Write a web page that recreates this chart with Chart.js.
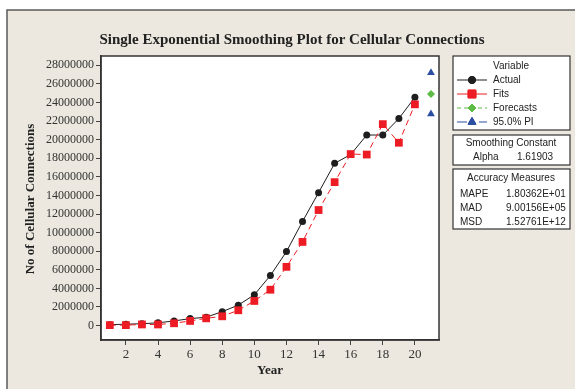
<!DOCTYPE html>
<html>
<head>
<meta charset="utf-8">
<script src="https://cdn.jsdelivr.net/npm/chart.js@4.4.1/dist/chart.umd.min.js"></script>
<style>
  html, body { margin: 0; padding: 0; background: #ffffff; }
  #wrap { width: 575px; height: 389px; position: relative; }
</style>
</head>
<body>
<div id="wrap"><canvas id="chart" width="575" height="389"></canvas></div>
<script>
// Yearly cellular connections and the single exponential smoothing results
const years = [1, 2, 3, 4, 5, 6, 7, 8, 9, 10, 11, 12, 13, 14, 15, 16, 17, 18, 19, 20];
const actual = [100000, 150000, 200000, 300000, 500000, 750000, 900000, 1500000, 2200000, 3320000,
                5390000, 7960000, 11200000, 14300000, 17450000, 18400000, 20500000, 20500000, 22270000, 24560000];
const fits = [50000, 50000, 120000, 120000, 250000, 500000, 780000, 1000000, 1650000, 2650000,
              3860000, 6320000, 9000000, 12430000, 15430000, 18450000, 18400000, 21670000, 19670000, 23800000];
const forecastYears = [21];
const forecasts = [24900000];
const piYears = [21, 21];
const piBounds = [27200000, 22750000];

const xTicks = [2, 4, 6, 8, 10, 12, 14, 16, 18, 20];
const yTicks = [0, 2000000, 4000000, 6000000, 8000000, 10000000, 12000000, 14000000,
                16000000, 18000000, 20000000, 22000000, 24000000, 26000000, 28000000];

const chartTitle = 'Single Exponential Smoothing Plot for Cellular Connections';
const xTitle = 'Year';
const yTitle = 'No of Cellular Connections';
const legendTitle = 'Variable';
const seriesNames = ['Actual', 'Fits', 'Forecasts', '95.0% PI'];
const smoothingTitle = 'Smoothing Constant';
const smoothingRows = [['Alpha', '1.61903']];
const accuracyTitle = 'Accuracy Measures';
const accuracyRows = [['MAPE', '1.80362E+01'], ['MAD', '9.00156E+05'], ['MSD', '1.52761E+12']];

const pts = (xs, ys) => xs.map((x, i) => ({ x: x, y: ys[i] }));

const BG = '#ECE8DF';
const SERIF = '"Liberation Serif", "DejaVu Serif", serif';
const SANS = '"Liberation Sans", Arial, sans-serif';

// Panel background, frame, titles and side boxes
const decor = {
  id: 'decor',
  beforeDraw(chart) {
    const ctx = chart.ctx, a = chart.chartArea;
    ctx.save();
    ctx.fillStyle = '#ffffff';
    ctx.fillRect(0, 0, chart.width, chart.height);
    ctx.fillStyle = BG;
    ctx.fillRect(7, 10, chart.width - 7, chart.height - 10);
    ctx.strokeStyle = '#5a5a5a';
    ctx.lineWidth = 1.5;
    ctx.beginPath();
    ctx.moveTo(7, chart.height);
    ctx.lineTo(7, 10);
    ctx.lineTo(chart.width, 10);
    ctx.stroke();
    ctx.fillStyle = '#ffffff';
    ctx.fillRect(a.left, a.top, a.right - a.left, a.bottom - a.top);
    ctx.restore();
  },
  afterDraw(chart) {
    const ctx = chart.ctx, a = chart.chartArea;
    ctx.save();
    // plot frame
    ctx.strokeStyle = '#333333';
    ctx.lineWidth = 1.5;
    ctx.strokeRect(a.left, a.top, a.right - a.left, a.bottom - a.top);

    // titles
    ctx.fillStyle = '#222222';
    ctx.textAlign = 'center';
    ctx.textBaseline = 'middle';
    ctx.font = 'bold 15px ' + SERIF;
    ctx.fillText(chartTitle, 292, 40);
    ctx.font = 'bold 13px ' + SERIF;
    ctx.fillText(xTitle, 270, 371);
    ctx.save();
    ctx.translate(31, 199);
    ctx.rotate(-Math.PI / 2);
    ctx.fillText(yTitle, 0, 0);
    ctx.restore();

    // side boxes
    const bx = 453, bw = 117;
    const box = (y, h) => {
      ctx.fillStyle = '#ffffff';
      ctx.fillRect(bx, y, bw, h);
      ctx.strokeStyle = '#333333';
      ctx.lineWidth = 1.2;
      ctx.strokeRect(bx, y, bw, h);
    };
    box(56, 74);
    box(135, 30);
    box(169, 60);

    ctx.font = '10px ' + SANS;
    ctx.fillStyle = '#222222';
    ctx.textBaseline = 'middle';
    ctx.textAlign = 'center';
    ctx.fillText(legendTitle, 511, 66);

    // legend rows from dataset styles
    chart.data.datasets.forEach((ds, i) => {
      const y = 80 + i * 14;
      ctx.save();
      ctx.strokeStyle = ds.borderColor;
      ctx.lineWidth = 1;
      ctx.setLineDash(ds.legendDash || []);
      ctx.beginPath();
      ctx.moveTo(457, y);
      ctx.lineTo(487, y);
      ctx.stroke();
      ctx.setLineDash([]);
      Chart.helpers.drawPoint(ctx, {
        pointStyle: ds.pointStyle,
        radius: ds.pointRadius,
        borderWidth: 1,
        rotation: 0
      }, 472, y);
      ctx.fillStyle = ds.pointBackgroundColor;
      ctx.strokeStyle = ds.pointBorderColor;
      ctx.fill();
      ctx.stroke();
      ctx.restore();
      ctx.fillStyle = '#222222';
      ctx.textAlign = 'left';
      ctx.fillText(ds.label, 493, y);
    });

    ctx.textAlign = 'center';
    ctx.fillText(smoothingTitle, 511, 143);
    smoothingRows.forEach((r, i) => {
      ctx.textAlign = 'left';
      ctx.fillText(r[0], 473, 157 + i * 14);
      ctx.fillText(r[1], 517, 157 + i * 14);
    });

    ctx.textAlign = 'center';
    ctx.fillText(accuracyTitle, 511, 178);
    accuracyRows.forEach((r, i) => {
      ctx.textAlign = 'left';
      ctx.fillText(r[0], 460, 194 + i * 14);
      ctx.fillText(r[1], 506, 194 + i * 14);
    });
    ctx.restore();
  }
};

new Chart(document.getElementById('chart'), {
  type: 'line',
  data: {
    datasets: [
      {
        label: seriesNames[0],
        data: pts(years, actual),
        borderColor: '#1e1e1e',
        borderWidth: 1,
        pointStyle: 'circle',
        pointRadius: 3.5,
        pointBackgroundColor: '#1e1e1e',
        pointBorderColor: '#1e1e1e',
        pointBorderWidth: 0,
        order: 2
      },
      {
        label: seriesNames[1],
        data: pts(years, fits),
        borderColor: '#ED1C24',
        borderWidth: 1,
        borderDash: [6, 4],
        legendDash: [],
        pointStyle: 'rect',
        pointRadius: 5.5,
        pointBackgroundColor: '#ED1C24',
        pointBorderColor: '#ED1C24',
        pointBorderWidth: 0,
        order: 1
      },
      {
        label: seriesNames[2],
        data: pts(forecastYears, forecasts),
        showLine: false,
        borderColor: '#5DBB46',
        legendDash: [4, 3],
        pointStyle: 'rectRot',
        pointRadius: 4,
        pointBackgroundColor: '#5DBB46',
        pointBorderColor: '#5DBB46',
        pointBorderWidth: 0
      },
      {
        label: seriesNames[3],
        data: pts(piYears, piBounds),
        showLine: false,
        borderColor: '#2B4DA2',
        legendDash: [10, 4, 4, 4],
        pointStyle: 'triangle',
        pointRadius: 4.5,
        pointBackgroundColor: '#2B4DA2',
        pointBorderColor: '#2B4DA2',
        pointBorderWidth: 0
      }
    ]
  },
  options: {
    responsive: false,
    animation: false,
    devicePixelRatio: 1,
    layout: { padding: { left: 0, right: 136, top: 56, bottom: 0 } },
    plugins: {
      legend: { display: false },
      title: { display: false },
      tooltip: { enabled: false }
    },
    scales: {
      x: {
        type: 'linear',
        min: 0.45,
        max: 21.5,
        afterBuildTicks(scale) { scale.ticks = xTicks.map(v => ({ value: v })); },
        afterFit(scale) { scale.height = 49; },
        grid: { display: true, drawOnChartArea: false, drawTicks: true, tickLength: 5, color: '#444444', lineWidth: 1 },
        border: { display: true, color: '#333333', width: 1.5 },
        ticks: {
          padding: 2,
          color: '#333333',
          font: { family: SERIF, size: 13 },
          maxRotation: 0,
          autoSkip: false
        }
      },
      y: {
        type: 'linear',
        min: -1550000,
        max: 29000000,
        afterBuildTicks(scale) { scale.ticks = yTicks.map(v => ({ value: v })); },
        afterFit(scale) { scale.width = 101; },
        grid: { display: true, drawOnChartArea: false, drawTicks: true, tickLength: 5, color: '#444444', lineWidth: 1 },
        border: { display: true, color: '#333333', width: 1.5 },
        ticks: {
          padding: 2,
          color: '#333333',
          font: { family: SERIF, size: 12 },
          autoSkip: false,
          callback: v => String(v)
        }
      }
    }
  },
  plugins: [decor]
});
</script>
</body>
</html>
